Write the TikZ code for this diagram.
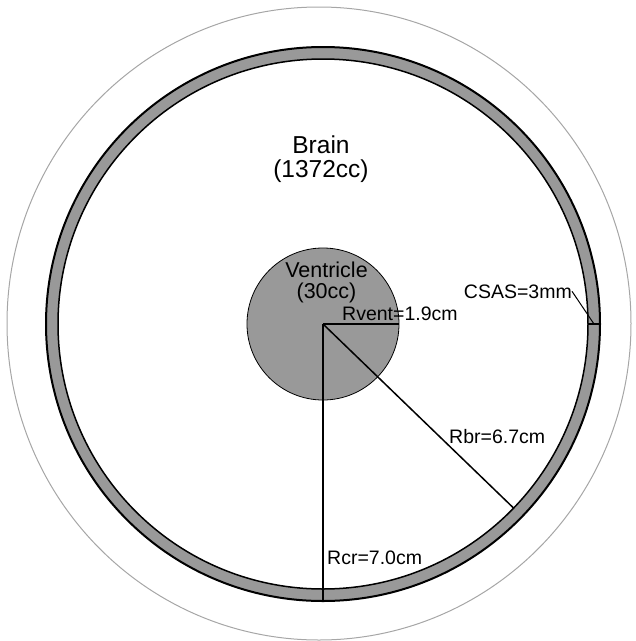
\documentclass[tikz,border=0pt]{standalone}
\usepackage{fontspec}
\setmainfont{Liberation Sans}

\begin{document}
\begin{tikzpicture}[x=1pt, y=-1pt,
  disc/.style={circle, draw, inner sep=0pt, outer sep=0pt},
  lbl/.style={inner sep=0pt, font=\fontsize{19.5}{22}\selectfont},
  radius line/.style={line width=1.5pt}]
\useasboundingbox (0,0) rectangle (636,641);
\coordinate (c) at (323,324);
% head outline
\draw[gray!70, line width=1pt] (319,323.5) ellipse [x radius=312, y radius=316.5];
% cranium, CSAS ring and brain
\node[disc, fill=black!40, line width=2pt, minimum size=554pt] (cran) at (c) {};
\node[disc, fill=white, line width=1.5pt, minimum size=530pt] (brain) at (c) {};
% ventricle
\node[disc, fill=black!40, line width=0.8pt, minimum size=152pt] (vent) at (c) {};
% volumes
\node[align=center, inner sep=0pt, font=\fontsize{24.5}{24}\selectfont] (brainlbl) at (321,159) {Brain\\(1372cc)};
\node[align=center, inner sep=0pt, font=\fontsize{21.5}{21}\selectfont] (ventlbl) at (326.5,282) {Ventricle\\(30cc)};
% radii
\draw[radius line] (c) -- (vent.east);
\node[lbl, anchor=base west] (rvent) at (342,320) {Rvent=1.9cm};
\draw[radius line] (c) -- (brain.-44);
\node[lbl, anchor=base west] (rbr) at (449,443) {Rbr=6.7cm};
\draw[radius line] (c) -- (cran.south);
\node[lbl, anchor=base west] (rcr) at (327,564) {Rcr=7.0cm};
% CSAS thickness
\draw[line width=1.5pt] (brain.east) -- coordinate (gap) (cran.east);
\node[lbl, anchor=base east] (csas) at (572,298) {CSAS=3mm};
\draw[line width=1pt] (csas.east) -- (gap);
\end{tikzpicture}
\end{document}
